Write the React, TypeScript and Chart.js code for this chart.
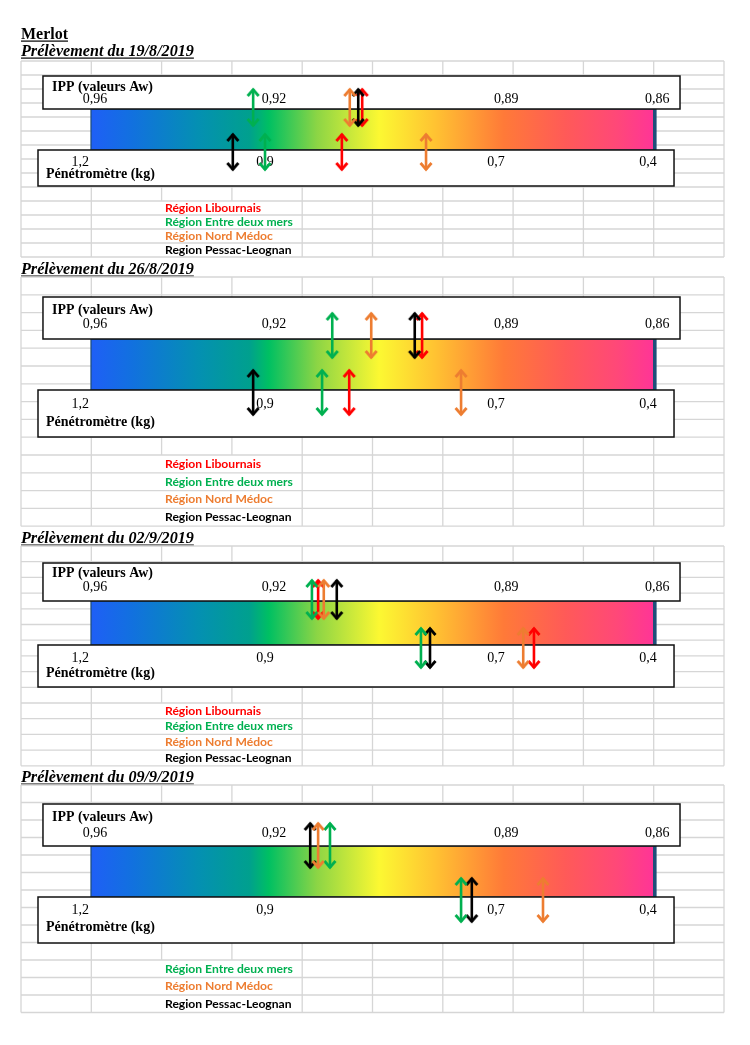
import React, { useEffect, useRef } from "react";
import { Chart, registerables } from "chart.js";

Chart.register(...registerables);

// ---------------- DATA ----------------
const pageTitle = "Merlot";
const sampleDates = ["19/8/2019", "26/8/2019", "02/9/2019", "09/9/2019"];
const regionNames = [
  "Région Libournais",
  "Région Entre deux mers",
  "Région Nord Médoc",
  "Region Pessac-Leognan",
];
const regionColors = ["#ff0000", "#00b050", "#ed7d31", "#000000"];

// tick labels of the two rulers and where they sit along the colour bar (% of bar length)
const ippTickLabels = ["0,96", "0,92", "0,89", "0,86"];
const ippTickPos = [0.7, 32.4, 73.5, 100.2];
const penTickLabels = ["1,2", "0,9", "0,7", "0,4"];
const penTickPos = [-1.9, 30.8, 71.7, 98.6];

// IPP (Aw) arrows: position along colour bar (%) per sampling date, null = no value
const ippLibournais = [48.0, 58.6, 40.2, null];
const ippEntreDeuxMers = [28.7, 42.7, 39.1, 42.3];
const ippNordMedoc = [45.8, 49.6, 41.2, 40.2];
const ippPessac = [47.3, 57.3, 43.5, 38.8];

// Pénétromètre arrows: position along colour bar (%) per sampling date
const penLibournais = [44.4, 45.7, 78.4, null];
const penEntreDeuxMers = [30.8, 40.9, 58.4, 65.5];
const penNordMedoc = [59.3, 65.5, 76.5, 80.0];
const penPessac = [25.1, 28.7, 60.0, 67.4];

const ippSeries = [ippLibournais, ippEntreDeuxMers, ippNordMedoc, ippPessac];
const penSeries = [penLibournais, penEntreDeuxMers, penNordMedoc, penPessac];

// gradient stops (% of bar, colour)
const gradPos = [0, 7, 19, 28, 31.5, 40, 51, 61, 73, 84, 93, 100];
const gradCol = [
  "#1f5ff6", "#1270e0", "#0490b2", "#00a08e", "#00c062", "#8cd545",
  "#fcf832", "#ffc232", "#ff7a38", "#ff5a58", "#ff4878", "#ff3399",
];

// ---------------- LAYOUT ----------------
const W = 750;
const H = 1045;
const BAR_LEFT_PX = 91;
const BAR_PX_PER_PCT = 5.65;
const X_MIN = -BAR_LEFT_PX / BAR_PX_PER_PCT;
const X_MAX = (W - BAR_LEFT_PX) / BAR_PX_PER_PCT;

const panels = [
  { titleBase: 56, gridTop: 61, rowH: 14, rows: 14, upTop: 76, barTop: 109, barBot: 150, lowBot: 186, ippY: 87, tickY: 99, penTickY: 162, penY: 174, topA: [89, 126], botA: [134, 170] },
  { titleBase: 274, gridTop: 277, rowH: 17.8, rows: 14, upTop: 297, barTop: 339, barBot: 390, lowBot: 437, ippY: 310, tickY: 324, penTickY: 404, penY: 422, topA: [313, 358], botA: [370, 415] },
  { titleBase: 543, gridTop: 546, rowH: 15.7, rows: 14, upTop: 563, barTop: 601, barBot: 645, lowBot: 687, ippY: 573, tickY: 587, penTickY: 658, penY: 673, topA: [580, 619], botA: [628, 668] },
  { titleBase: 782, gridTop: 785, rowH: 17.5, rows: 13, upTop: 804, barTop: 846, barBot: 897, lowBot: 943, ippY: 817, tickY: 833, penTickY: 910, penY: 927, topA: [823, 868], botA: [878, 922] },
];
const UP_BOX = [-8.5, 104.25];
const LOW_BOX = [-9.38, 103.19];
const GRID_LEFT = 21;
const GRID_COL = 70.3;
const GRID_COLS = 10;
const LEGEND_ROW = 10;
const LEGEND_X = 165;

const SERIF = '"Liberation Serif", "Times New Roman", serif';
const SANS = 'Lato, "Open Sans", sans-serif';

function fitSize(ctx: CanvasRenderingContext2D, text: string, target: number, tmpl: (s: number) => string) {
  ctx.font = tmpl(100);
  const w = ctx.measureText(text).width;
  return (100 * target) / w;
}

function chevron(color: string) {
  const c = document.createElement("canvas");
  c.width = 20;
  c.height = 20;
  const g = c.getContext("2d")!;
  g.strokeStyle = color;
  g.lineWidth = 2.8;
  g.lineCap = "butt";
  g.lineJoin = "miter";
  g.beginPath();
  g.moveTo(10 - 5.5, 10 + 7);
  g.lineTo(10, 10 + 0.6);
  g.lineTo(10 + 5.5, 10 + 7);
  g.stroke();
  return c;
}

const backgroundPlugin = {
  id: "sheetBackground",
  beforeDatasetsDraw(chart: any) {
    const ctx: CanvasRenderingContext2D = chart.ctx;
    const xs = chart.scales.x;
    const ys = chart.scales.y;
    const X = (v: number) => xs.getPixelForValue(v);
    const Y = (v: number) => ys.getPixelForValue(v);
    ctx.save();
    ctx.fillStyle = "#ffffff";
    ctx.fillRect(0, 0, W, H);

    const titleSize = fitSize(ctx, "Prélèvement du 19/8/2019", 173, (s) => `italic bold ${s}px ${SERIF}`);
    const merlotSize = fitSize(ctx, pageTitle, 47, (s) => `bold ${s}px ${SERIF}`);
    const ippSize = fitSize(ctx, "IPP (valeurs Aw)", 101, (s) => `bold ${s}px ${SERIF}`);
    const penSize = fitSize(ctx, "Pénétromètre (kg)", 109, (s) => `bold ${s}px ${SERIF}`);
    const legSize = fitSize(ctx, "Région Entre deux mers", 128, (s) => `bold ${s}px ${SANS}`);

    // Merlot
    ctx.fillStyle = "#000";
    ctx.textBaseline = "alphabetic";
    ctx.textAlign = "left";
    ctx.font = `bold ${merlotSize}px ${SERIF}`;
    ctx.fillText(pageTitle, GRID_LEFT, Y(39));
    ctx.fillRect(GRID_LEFT, Y(40.5), ctx.measureText(pageTitle).width, 1.2);

    panels.forEach((p, pi) => {
      const gridBottom = p.gridTop + p.rows * p.rowH;
      // title
      ctx.fillStyle = "#000";
      ctx.textAlign = "left";
      ctx.textBaseline = "alphabetic";
      ctx.font = `italic bold ${titleSize}px ${SERIF}`;
      const t = "Prélèvement du " + sampleDates[pi];
      ctx.fillText(t, GRID_LEFT, Y(p.titleBase));
      ctx.fillRect(GRID_LEFT, Y(p.titleBase + 1.5), ctx.measureText(t).width, 1.2);

      // grid
      ctx.strokeStyle = "#d6d6d6";
      ctx.lineWidth = 1.3;
      ctx.beginPath();
      for (let i = 0; i <= p.rows; i++) {
        const y = Y(p.gridTop + i * p.rowH);
        ctx.moveTo(GRID_LEFT, y);
        ctx.lineTo(GRID_LEFT + GRID_COLS * GRID_COL, y);
      }
      for (let k = 0; k <= GRID_COLS; k++) {
        const x = GRID_LEFT + k * GRID_COL;
        if (k === 2 || k === 3) {
          ctx.moveTo(x, Y(p.gridTop));
          ctx.lineTo(x, Y(p.gridTop + LEGEND_ROW * p.rowH));
        } else {
          ctx.moveTo(x, Y(p.gridTop));
          ctx.lineTo(x, Y(gridBottom));
        }
      }
      ctx.stroke();

      // colour bar
      const bx0 = X(0);
      const bx1 = X(100);
      const grad = ctx.createLinearGradient(bx0, 0, bx1, 0);
      gradPos.forEach((g, i) => grad.addColorStop(g / 100, gradCol[i]));
      ctx.fillStyle = grad;
      ctx.fillRect(bx0, Y(p.barTop), bx1 - bx0, Y(p.barBot) - Y(p.barTop));
      ctx.strokeStyle = "#1f4e79";
      ctx.lineWidth = 1.2;
      ctx.strokeRect(bx0, Y(p.barTop), bx1 - bx0, Y(p.barBot) - Y(p.barTop));
      ctx.fillStyle = "#1f4e79";
      ctx.fillRect(bx1 - 3, Y(p.barTop), 3, Y(p.barBot) - Y(p.barTop));

      // boxes
      ctx.lineWidth = 1.5;
      ctx.strokeStyle = "#111";
      ctx.fillStyle = "#fff";
      const ux0 = X(UP_BOX[0]);
      const ux1 = X(UP_BOX[1]);
      ctx.fillRect(ux0, Y(p.upTop), ux1 - ux0, Y(p.barTop) - Y(p.upTop));
      ctx.strokeRect(ux0, Y(p.upTop), ux1 - ux0, Y(p.barTop) - Y(p.upTop));
      const lx0 = X(LOW_BOX[0]);
      const lx1 = X(LOW_BOX[1]);
      ctx.fillRect(lx0, Y(p.barBot), lx1 - lx0, Y(p.lowBot) - Y(p.barBot));
      ctx.strokeRect(lx0, Y(p.barBot), lx1 - lx0, Y(p.lowBot) - Y(p.barBot));

      // box texts
      ctx.fillStyle = "#000";
      ctx.textBaseline = "middle";
      ctx.textAlign = "left";
      ctx.font = `bold ${ippSize}px ${SERIF}`;
      ctx.fillText("IPP (valeurs Aw)", 52, Y(p.ippY));
      ctx.font = `bold ${penSize}px ${SERIF}`;
      ctx.fillText("Pénétromètre (kg)", 46, Y(p.penY));
      ctx.font = `14px ${SERIF}`;
      ctx.textAlign = "center";
      ippTickLabels.forEach((l, i) => ctx.fillText(l, X(ippTickPos[i]), Y(p.tickY)));
      penTickLabels.forEach((l, i) => ctx.fillText(l, X(penTickPos[i]), Y(p.penTickY)));

      // legend
      ctx.textAlign = "left";
      ctx.font = `bold ${legSize}px ${SANS}`;
      let row = LEGEND_ROW;
      regionNames.forEach((name, r) => {
        if (ippSeries[r][pi] == null && penSeries[r][pi] == null) return;
        ctx.fillStyle = regionColors[r];
        ctx.fillText(name, LEGEND_X, Y(p.gridTop + (row + 0.5) * p.rowH));
        row++;
      });
    });
    ctx.restore();
  },
};

export default function App() {
  const ref = useRef<HTMLCanvasElement>(null);
  useEffect(() => {
    const canvas = ref.current!;
    const heads = regionColors.map((c) => chevron(c));
    const datasets: any[] = [];
    const drawOrder = [2, 1, 3, 0];
    panels.forEach((p, pi) => {
      drawOrder.forEach((r) => {
        const pairs: [Array<number | null>, number[]][] = [
          [ippSeries[r], p.topA],
          [penSeries[r], p.botA],
        ];
        pairs.forEach(([series, ya]) => {
          const v = series[pi];
          if (v == null) return;
          datasets.push({
            label: regionNames[r],
            data: [
              { x: v, y: ya[0] },
              { x: v, y: ya[1] },
            ],
            showLine: true,
            borderColor: regionColors[r],
            backgroundColor: regionColors[r],
            borderWidth: 2.6,
            pointStyle: heads[r],
            pointRotation: [0, 180],
            pointRadius: 3,
          });
        });
      });
    });
    const chart = new Chart(canvas, {
      type: "scatter",
      data: { datasets },
      options: {
        animation: false,
        responsive: false,
        events: [],
        layout: { padding: 0, autoPadding: false },
        plugins: { legend: { display: false }, tooltip: { enabled: false } },
        scales: {
          x: { type: "linear", min: X_MIN, max: X_MAX, display: false },
          y: { type: "linear", min: 0, max: H, reverse: true, display: false },
        },
      },
      plugins: [backgroundPlugin],
    } as any);
    return () => chart.destroy();
  }, []);
  return (
    <div style={{ position: "absolute", left: 0, top: 0, width: W, height: H }}>
      <canvas ref={ref} width={W} height={H} style={{ display: "block", width: W, height: H }} />
    </div>
  );
}
